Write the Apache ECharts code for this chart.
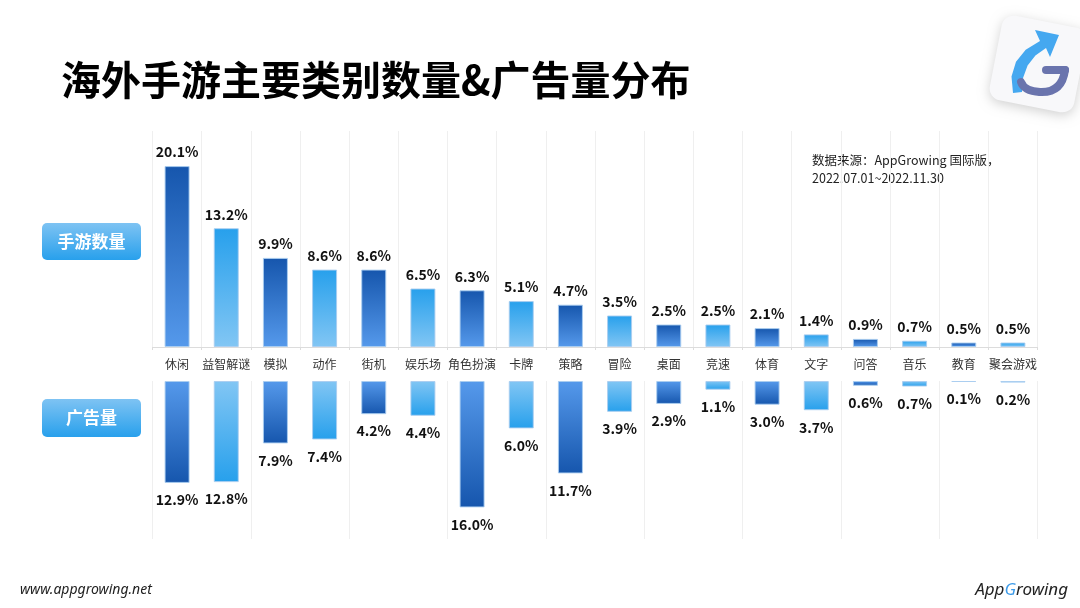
<!DOCTYPE html>
<html>
<head>
<meta charset="utf-8">
<style>
  html, body { margin: 0; padding: 0; background: #ffffff; }
  #chart { width: 1080px; height: 608px; }
</style>
<script src="https://cdn.jsdelivr.net/npm/echarts@6/dist/echarts.min.js"></script>
</head>
<body>
<div id="chart"></div>
<script>
var categories = ['休闲','益智解谜','模拟','动作','街机','娱乐场','角色扮演','卡牌','策略','冒险','桌面','竞速','体育','文字','问答','音乐','教育','聚会游戏'];
var gameShare = [20.1,13.2,9.9,8.6,8.6,6.5,6.3,5.1,4.7,3.5,2.5,2.5,2.1,1.4,0.9,0.7,0.5,0.5];
var adShare = [12.9,12.8,7.9,7.4,4.2,4.4,16.0,6.0,11.7,3.9,2.9,1.1,3.0,3.7,0.6,0.7,0.1,0.2];

var FONT = '"Noto Sans CJK SC", "Noto Sans", sans-serif';

function grad(c1, c2) {
  return new echarts.graphic.LinearGradient(0, 0, 0, 1, [{ offset: 0, color: c1 }, { offset: 1, color: c2 }]);
}
var DARK_A = '#1656ad', DARK_B = '#5599eb';
var LIGHT_A = '#27a0ec', LIGHT_B = '#82c6f4';

var chart = echarts.init(document.getElementById('chart'), null, { renderer: 'canvas' });

var option = {
  backgroundColor: '#ffffff',
  animation: false,
  title: {
    text: '海外手游主要类别数量&广告量分布',
    left: 56, top: 53,
    textStyle: { fontFamily: FONT, fontSize: 40, fontWeight: 'bold', color: '#000000', lineHeight: 44 }
  },
  grid: [
    { left: 152.5, right: 42.5, top: 131, height: 216 },
    { left: 152.5, right: 42.5, top: 381, height: 158 }
  ],
  xAxis: [
    {
      type: 'category', gridIndex: 0, data: categories,
      axisLine: { show: true, lineStyle: { color: '#dcdcdc', width: 1 } },
      axisTick: { show: true, length: 3, lineStyle: { color: '#dcdcdc' } },
      axisLabel: { show: true, margin: 11, fontFamily: FONT, fontSize: 12, color: '#333333', interval: 0 },
      splitLine: { show: true, lineStyle: { color: '#efefef', width: 1 } }
    },
    {
      type: 'category', gridIndex: 1, data: categories,
      axisLine: { show: false }, axisTick: { show: false }, axisLabel: { show: false },
      splitLine: { show: true, lineStyle: { color: '#efefef', width: 1 } }
    }
  ],
  yAxis: [
    { type: 'value', gridIndex: 0, min: 0, max: 24, show: false, splitLine: { show: false } },
    { type: 'value', gridIndex: 1, min: 0, max: 20, inverse: true, show: false, splitLine: { show: false } }
  ],
  series: [
    {
      name: '手游数量', type: 'bar', xAxisIndex: 0, yAxisIndex: 0, data: gameShare,
      barWidth: 25, barMinHeight: 1,
      itemStyle: {
        borderColor: 'rgba(170,205,240,0.9)', borderWidth: 1,
        color: function (p) { return p.dataIndex % 2 === 0 ? grad(DARK_A, DARK_B) : grad(LIGHT_A, LIGHT_B); }
      },
      label: {
        show: true, position: 'top', distance: 7,
        fontFamily: FONT, fontSize: 14, fontWeight: 'bold', color: '#111111',
        formatter: function (p) { return p.value.toFixed(1) + '%'; }
      }
    },
    {
      name: '广告量', type: 'bar', xAxisIndex: 1, yAxisIndex: 1, data: adShare,
      barWidth: 25, barMinHeight: 1,
      itemStyle: {
        borderColor: 'rgba(170,205,240,0.9)', borderWidth: 1,
        color: function (p) { return p.dataIndex % 2 === 0 ? grad(DARK_B, DARK_A) : grad(LIGHT_B, LIGHT_A); }
      },
      label: {
        show: true, position: 'bottom', distance: 10,
        fontFamily: FONT, fontSize: 14, fontWeight: 'bold', color: '#111111',
        formatter: function (p) { return p.value.toFixed(1) + '%'; }
      }
    }
  ],
  graphic: [
    // left tags
    { type: 'rect', x: 42, y: 223, shape: { x: 0, y: 0, width: 99, height: 37, r: 5 },
      style: { fill: grad('#7ec3f3', '#28a0ec') } },
    { type: 'text', x: 91.5, y: 241.5,
      style: { text: '手游数量', fill: '#ffffff', font: 'bold 17px ' + FONT, align: 'center', verticalAlign: 'middle' } },
    { type: 'rect', x: 42, y: 399, shape: { x: 0, y: 0, width: 99, height: 38, r: 5 },
      style: { fill: grad('#7ec3f3', '#28a0ec') } },
    { type: 'text', x: 91.5, y: 418,
      style: { text: '广告量', fill: '#ffffff', font: 'bold 17px ' + FONT, align: 'center', verticalAlign: 'middle' } },
    // source note
    { type: 'text', x: 812, y: 151,
      style: { text: '数据来源：AppGrowing 国际版，\n2022.07.01~2022.11.30', fill: '#222222', font: '12.5px ' + FONT, lineHeight: 18 } },
    // footer
    { type: 'text', x: 20, y: 590,
      style: { text: 'www.appgrowing.net', fill: '#222222', font: 'italic 14px "Noto Sans", sans-serif', verticalAlign: 'middle' } },
    { type: 'text', x: 1068, y: 590,
      style: { rich: {
        a: { fill: '#222222', font: 'italic 17px "Noto Sans", sans-serif' },
        g: { fill: '#3d9be9', font: 'italic 17px "Noto Sans", sans-serif' }
      }, text: '{a|App}{g|G}{a|rowing}', align: 'right', verticalAlign: 'middle' } },
    // top-right logo tile
    { type: 'group', x: 1038, y: 64, rotation: -11 * Math.PI / 180, children: [
      { type: 'rect', shape: { x: -43, y: -43, width: 86, height: 86, r: 12 },
        style: { fill: '#f8f8fa', shadowBlur: 12, shadowColor: 'rgba(0,0,0,0.18)', shadowOffsetY: 3 } }
    ] },
    { type: 'polygon', shape: { points: [[1013,93],[1011.5,76.4],[1016,61.7],[1025.7,49.7],[1040,41],[1035,30],[1059,35],[1050,57],[1046,48],[1035.4,55.4],[1027.6,65.5],[1023.1,77.8],[1022,92]] },
      style: { fill: '#45a8f0' } },
    { type: 'line', shape: { x1: 1046, y1: 70, x2: 1065, y2: 70 },
      style: { stroke: '#6a74ad', lineWidth: 8, lineCap: 'round' } },
    { type: 'bezierCurve', shape: { x1: 1065, y1: 70, cpx1: 1062, cpy1: 93, x2: 1040, y2: 92 },
      style: { fill: null, stroke: '#6a74ad', lineWidth: 8, lineCap: 'round' } },
    { type: 'bezierCurve', shape: { x1: 1040, y1: 92, cpx1: 1024, cpy1: 91, x2: 1021, y2: 82 },
      style: { fill: null, stroke: '#6a74ad', lineWidth: 8, lineCap: 'round' } }
  ]
};
chart.setOption(option);
</script>
</body>
</html>
